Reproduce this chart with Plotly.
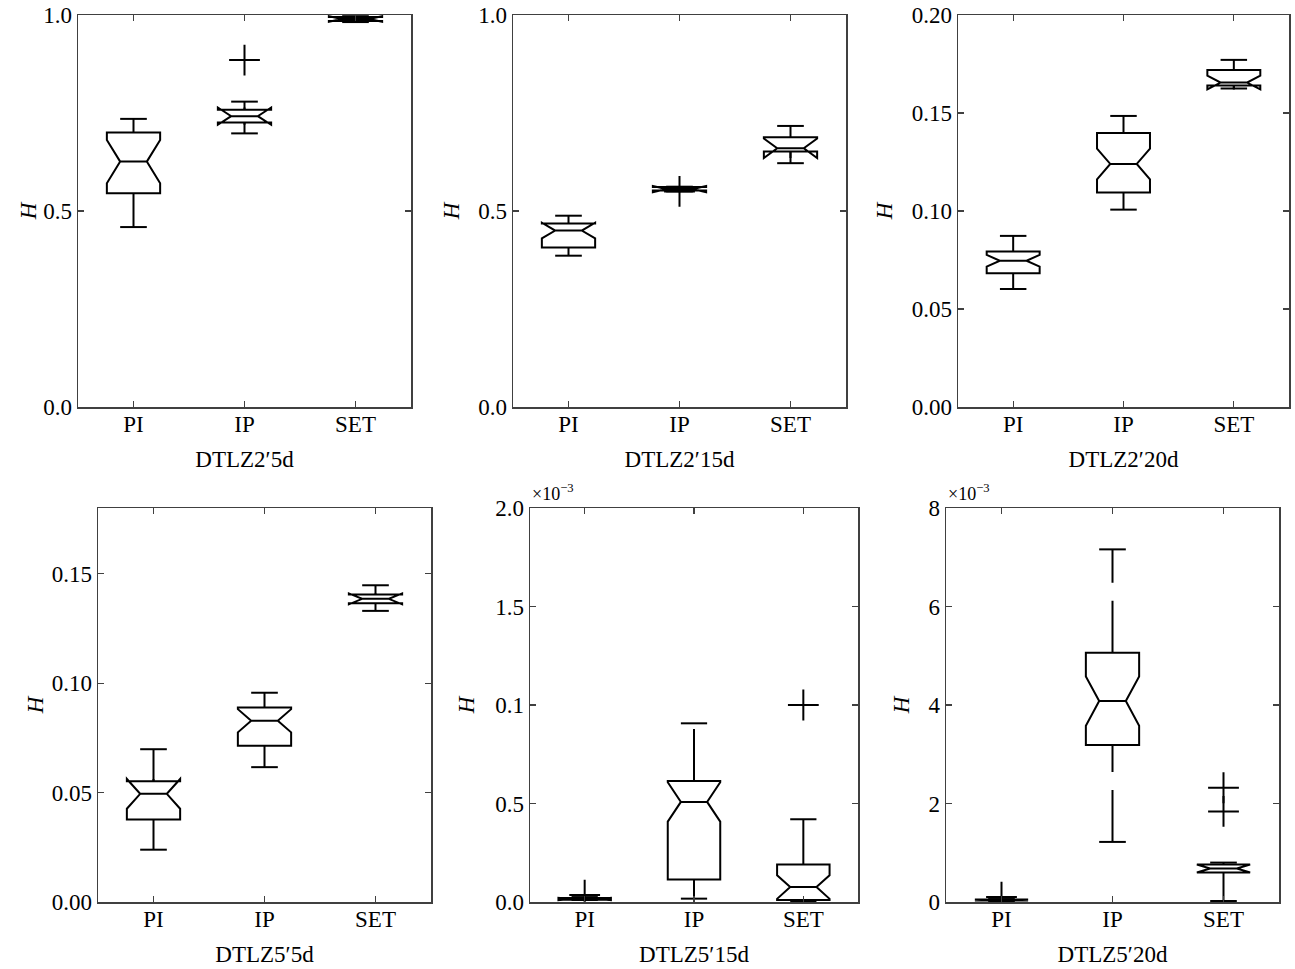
import plotly.graph_objects as go

# ---------------- data ----------------
categories = ["PI", "IP", "SET"]
positions = [1, 2, 3]
panel_titles = ["DTLZ2′5d", "DTLZ2′15d", "DTLZ2′20d", "DTLZ5′5d", "DTLZ5′15d", "DTLZ5′20d"]

# DTLZ2'5d
p1_lower = [0.459, 0.698, 0.982]
p1_q1 = [0.545, 0.726, 0.985]
p1_median = [0.626, 0.742, 0.990]
p1_q3 = [0.700, 0.758, 0.995]
p1_upper = [0.735, 0.779, 0.997]
p1_notch = [0.055, 0.022, 0.007]
p1_out_x = [2]
p1_out_y = [0.885]

# DTLZ2'15d
p2_lower = [0.386, 0.550, 0.622]
p2_q1 = [0.407, 0.552, 0.652]
p2_median = [0.450, 0.556, 0.660]
p2_q3 = [0.468, 0.561, 0.688]
p2_upper = [0.488, 0.562, 0.717]
p2_notch = [0.020, 0.008, 0.025]
p2_out_x = [2]
p2_out_y = [0.550]

# DTLZ2'20d
p3_lower = [0.0602, 0.1007, 0.1625]
p3_q1 = [0.0683, 0.1094, 0.1640]
p3_median = [0.0746, 0.1240, 0.1655]
p3_q3 = [0.0793, 0.1398, 0.1720]
p3_upper = [0.0873, 0.1485, 0.1771]
p3_notch = [0.0030, 0.0078, 0.0035]
p3_out_x = []
p3_out_y = []

# DTLZ5'5d
p4_lower = [0.0239, 0.0616, 0.1330]
p4_q1 = [0.0377, 0.0714, 0.1365]
p4_median = [0.0494, 0.0828, 0.1385]
p4_q3 = [0.0552, 0.0889, 0.1405]
p4_upper = [0.0698, 0.0956, 0.1447]
p4_notch = [0.0068, 0.0053, 0.0025]
p4_out_x = []
p4_out_y = []

# DTLZ5'15d  (values in units of 1e-3)
p5_lower = [0.010, 0.017, 0.003]
p5_q1 = [0.012, 0.114, 0.010]
p5_median = [0.015, 0.508, 0.076]
p5_q3 = [0.020, 0.614, 0.190]
p5_upper = [0.025, 0.907, 0.420]
p5_notch = [0.006, 0.100, 0.060]
p5_out_x = [1, 3]
p5_out_y = [0.035, 1.0]

# DTLZ5'20d  (values in units of 1e-3)
p6_lower = [0.02, 1.22, 0.02]
p6_q1 = [0.03, 3.19, 0.60]
p6_median = [0.04, 4.08, 0.68]
p6_q3 = [0.05, 5.06, 0.76]
p6_upper = [0.06, 7.16, 0.80]
p6_notch = [0.01, 0.50, 0.08]
p6_out_x = [1, 3, 3]
p6_out_y = [0.10, 1.84, 2.32]

# y axes
y_ranges = [[0, 1], [0, 1], [0, 0.2], [0, 0.18], [0, 2], [0, 8]]
y_tickvals = [[0, 0.5, 1.0], [0, 0.5, 1.0], [0, 0.05, 0.10, 0.15, 0.20],
              [0, 0.05, 0.10, 0.15], [0, 0.5, 1.0, 1.5, 2.0], [0, 2, 4, 6, 8]]
y_ticktext = [["0.0", "0.5", "1.0"], ["0.0", "0.5", "1.0"],
              ["0.00", "0.05", "0.10", "0.15", "0.20"],
              ["0.00", "0.05", "0.10", "0.15"],
              ["0.0", "0.5", "0.1", "1.5", "2.0"],
              ["0", "2", "4", "6", "8"]]
scale_label = "×10<sup>−3</sup>"

panels = [
    (p1_lower, p1_q1, p1_median, p1_q3, p1_upper, p1_notch, p1_out_x, p1_out_y),
    (p2_lower, p2_q1, p2_median, p2_q3, p2_upper, p2_notch, p2_out_x, p2_out_y),
    (p3_lower, p3_q1, p3_median, p3_q3, p3_upper, p3_notch, p3_out_x, p3_out_y),
    (p4_lower, p4_q1, p4_median, p4_q3, p4_upper, p4_notch, p4_out_x, p4_out_y),
    (p5_lower, p5_q1, p5_median, p5_q3, p5_upper, p5_notch, p5_out_x, p5_out_y),
    (p6_lower, p6_q1, p6_median, p6_q3, p6_upper, p6_notch, p6_out_x, p6_out_y),
]

# ---------------- layout geometry (screen pixels) ----------------
W, H = 1295, 969
OFF = 0  # page body margin removed by post_script below
col_px = [(78, 411), (513, 846), (958, 1289), (98, 431), (530, 858), (946, 1279)]
row_px = [(15, 407)] * 3 + [(508, 902)] * 3
h_standoff = [0, 12, 12, 1, 14, 12]

FONT = "Liberation Serif"
fs = 23
BOX_W = 0.48
CAP_HALF = BOX_W / 4

fig = go.Figure()
layout = dict(
    width=W, height=H, margin=dict(l=0, r=0, t=0, b=0, autoexpand=False),
    paper_bgcolor="white", plot_bgcolor="white", showlegend=False,
    font=dict(family=FONT, size=fs, color="black"), boxmode="overlay",
)

for i, (lo, q1, med, q3, up, nspan, ox, oy) in enumerate(panels):
    k = i + 1
    xa = "x" if k == 1 else f"x{k}"
    ya = "y" if k == 1 else f"y{k}"
    # whiskers (dashed, MATLAB style)
    wx, wy, cx, cy = [], [], [], []
    for p, l_, a, b, u in zip(positions, lo, q1, q3, up):
        wx += [p, p, None, p, p, None]
        wy += [b, u, None, l_, a, None]
        cx += [p - CAP_HALF, p + CAP_HALF, None, p - CAP_HALF, p + CAP_HALF, None]
        cy += [u, u, None, l_, l_, None]
    fig.add_trace(go.Scatter(
        x=wx, y=wy, mode="lines", xaxis=xa, yaxis=ya, hoverinfo="skip",
        line=dict(color="black", width=2, dash="52px,18px"),
    ))
    fig.add_trace(go.Scatter(
        x=cx, y=cy, mode="lines", xaxis=xa, yaxis=ya, hoverinfo="skip",
        line=dict(color="black", width=2),
    ))
    # notched box
    fig.add_trace(go.Box(
        x=positions, q1=q1, median=med, q3=q3, lowerfence=q1, upperfence=q3,
        notchspan=nspan, notched=True, notchwidth=0.25, width=BOX_W,
        whiskerwidth=0, boxpoints=False,
        line=dict(color="black", width=2),
        fillcolor="rgba(255,255,255,0)", xaxis=xa, yaxis=ya,
    ))
    if ox:
        fig.add_trace(go.Scatter(
            x=ox, y=oy, mode="markers", xaxis=xa, yaxis=ya,
            marker=dict(symbol="cross-thin", size=22, color="black",
                        line=dict(width=2, color="black")),
        ))
    x0, x1 = col_px[i]
    y0, y1 = row_px[i]
    axis_common = dict(
        showline=True, linecolor="#404040", linewidth=1.5, mirror="ticks",
        ticks="inside", ticklen=6, tickwidth=1.2, tickcolor="#404040",
        showgrid=False, zeroline=False, automargin=False,
        ticklabeloverflow="allow",
        tickfont=dict(family=FONT, size=fs, color="black"),
    )
    layout["xaxis" if k == 1 else f"xaxis{k}"] = dict(
        axis_common, domain=[(x0 - OFF) / W, (x1 - OFF) / W], range=[0.5, 3.5],
        tickvals=positions, ticktext=categories, anchor=ya,
        ticklabelstandoff=-4,
        title=dict(text=panel_titles[i], font=dict(family=FONT, size=fs), standoff=15),
    )
    layout["yaxis" if k == 1 else f"yaxis{k}"] = dict(
        axis_common, domain=[1 - (y1 - OFF) / H, 1 - (y0 - OFF) / H], range=y_ranges[i],
        tickvals=y_tickvals[i], ticktext=y_ticktext[i], anchor=xa,
        ticklabelstandoff=0,
        title=dict(text="<i>H</i>", font=dict(family=FONT, size=fs), standoff=h_standoff[i]),
    )

annotations = []
for i in (4, 5):
    x0, _ = col_px[i]
    y0, _ = row_px[i]
    annotations.append(dict(
        text=scale_label, xref="paper", yref="paper",
        x=(x0 - OFF) / W, y=1 - (y0 - OFF - 2) / H,
        xanchor="left", yanchor="bottom", showarrow=False,
        font=dict(family=FONT, size=18, color="black"),
    ))
layout["annotations"] = annotations

fig.update_layout(**layout)
fig.write_html("out.html",
               config={"displayModeBar": False, "staticPlot": True},
               post_script="document.body.style.margin='0px';document.body.style.overflow='hidden';")
